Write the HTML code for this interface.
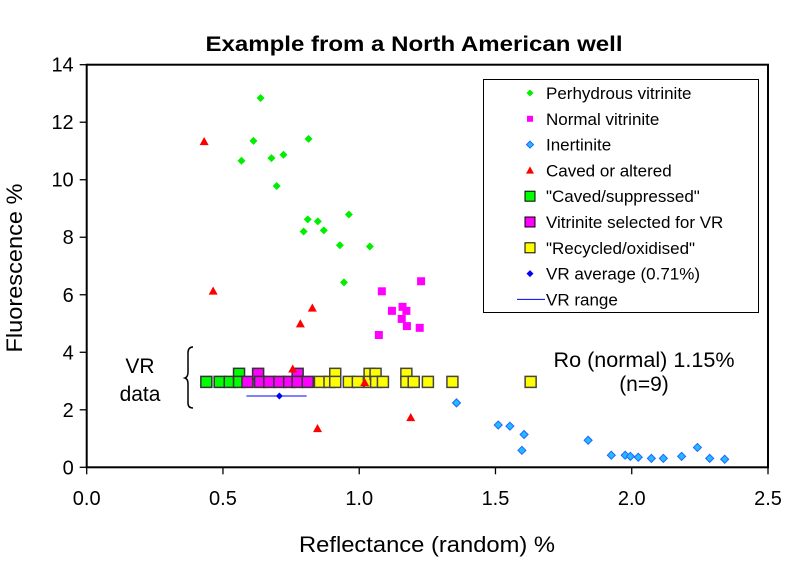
<!DOCTYPE html>
<html><head><meta charset="utf-8"><style>
html,body{margin:0;padding:0;background:#fff;}
svg{display:block;font-family:"Liberation Sans",Arial,sans-serif;}
</style></head><body>
<svg id="chart" width="789" height="565" viewBox="0 0 789 565"></svg>
<script>
const xTicks=[0.0,0.5,1.0,1.5,2.0,2.5];
const xTickLabels=["0.0","0.5","1.0","1.5","2.0","2.5"];
const yTicks=[0,2,4,6,8,10,12,14];
const yTickLabels=["0","2","4","6","8","10","12","14"];
const perhydX=[0.638,0.612,0.568,0.678,0.722,0.814,0.697,0.811,0.848,0.962,0.796,0.870,0.929,1.039,0.944];
const perhydY=[12.84,11.35,10.66,10.75,10.87,11.42,9.78,8.62,8.55,8.79,8.20,8.24,7.72,7.68,6.43];
const normalX=[1.083,1.227,1.120,1.159,1.173,1.156,1.175,1.222,1.072];
const normalY=[6.12,6.47,5.44,5.58,5.44,5.16,4.91,4.85,4.60];
const inertX=[1.357,1.510,1.553,1.605,1.597,1.840,1.925,1.976,1.995,2.024,2.072,2.116,2.183,2.241,2.286,2.341];
const inertY=[2.24,1.47,1.43,1.14,0.59,0.94,0.42,0.42,0.38,0.35,0.31,0.31,0.38,0.69,0.31,0.28];
const cavedX=[0.431,0.464,0.784,0.828,0.847,1.189,0.756,1.020];
const cavedY=[11.33,6.13,4.99,5.54,1.35,1.73,3.42,2.95];
const suppX=[0.439,0.488,0.525,0.559,0.559];
const suppY=[2.97,2.97,2.97,3.25,2.97];
const selX=[0.590,0.629,0.636,0.670,0.707,0.743,0.774,0.774,0.811];
const selY=[2.97,3.25,2.97,2.97,2.97,2.97,3.25,2.97,2.97];
const recX=[0.856,0.891,0.912,0.912,0.962,0.995,1.038,1.038,1.060,1.062,1.087,1.173,1.173,1.200,1.252,1.342,1.629];
const recY=[2.97,2.97,3.25,2.97,2.97,2.97,3.25,2.97,3.25,2.97,2.97,3.25,2.97,2.97,2.97,2.97,2.97];
const vrAvgX=[0.707];
const vrAvgY=[2.48];
const vrRange=[0.586,0.807];

const L=86.7,R=768,T=64.7,B=467.3;
const xS=v=>L+(v-0)/2.5*(R-L);
const yS=v=>B-(v-0)/14*(B-T);
const NS="http://www.w3.org/2000/svg";
const svg=document.getElementById('chart');
function mk(tag,attrs,parent){const e=document.createElementNS(NS,tag);for(const k in attrs)e.setAttribute(k,attrs[k]);(parent||svg).appendChild(e);return e;}
function txt(s,attrs,parent){const e=mk('text',attrs,parent);e.textContent=s;return e;}

let t=txt('Example from a North American well',{x:414,y:51,'text-anchor':'middle','font-size':21,'font-weight':'bold',textLength:417,lengthAdjust:'spacingAndGlyphs'});



const frame=mk('rect',{x:L,y:T,width:R-L,height:B-T,fill:'none',stroke:'#000','stroke-width':2});



const xg=mk('g',{});


xTicks.forEach((v,i)=>{
  mk('line',{x1:xS(v),x2:xS(v),y1:B,y2:B+7,stroke:'#000','stroke-width':1.3},xg);
  const l=txt(xTickLabels[i],{x:xS(v),y:505,'text-anchor':'middle','font-size':20},xg);
  
  
});
const yg=mk('g',{});


yTicks.forEach((v,i)=>{
  mk('line',{x1:L-7,x2:L,y1:yS(v),y2:yS(v),stroke:'#000','stroke-width':1.3},yg);
  const l=txt(yTickLabels[i],{x:L-13,y:yS(v)+7,'text-anchor':'end','font-size':20},yg);
  
  
});
t=txt('Reflectance (random) %',{x:427,y:552,'text-anchor':'middle','font-size':22,textLength:256,lengthAdjust:'spacingAndGlyphs'});


t=txt('Fluorescence %',{x:0,y:0,'text-anchor':'middle','font-size':22,textLength:169,lengthAdjust:'spacingAndGlyphs',transform:'translate(22,268) rotate(-90)'});



function diamond(cx,cy,r,fill,stroke,p){return mk('path',{d:`M${cx} ${cy-r}L${cx+r} ${cy}L${cx} ${cy+r}L${cx-r} ${cy}Z`,fill:fill,stroke:stroke||'none','stroke-width':1},p);}
function square(cx,cy,s,fill,stroke,p){return mk('rect',{x:cx-s/2,y:cy-s/2,width:s,height:s,fill:fill,stroke:stroke||'none','stroke-width':1.5},p);}
function tri(cx,cy,r,fill,p){return mk('path',{d:`M${cx} ${cy-r}L${cx+r} ${cy+r*0.8}L${cx-r} ${cy+r*0.8}Z`,fill:fill},p);}

let g=mk('g',{});
recX.forEach((x,i)=>{const m=square(xS(x),yS(recY[i]),11,'#ffff00','#444',g);});
g=mk('g',{});
suppX.forEach((x,i)=>{const m=square(xS(x),yS(suppY[i]),11,'#00ff00','#333',g);});
g=mk('g',{});
selX.forEach((x,i)=>{const m=square(xS(x),yS(selY[i]),11,'#ff00ff','#333',g);});
g=mk('g',{});
perhydX.forEach((x,i)=>{const m=diamond(xS(x),yS(perhydY[i]),4,'#00ee00',null,g);});
g=mk('g',{});
normalX.forEach((x,i)=>{const m=square(xS(x),yS(normalY[i]),8,'#ff00ff',null,g);});
g=mk('g',{});
inertX.forEach((x,i)=>{const m=diamond(xS(x),yS(inertY[i]),4,'#22bbff','#2266ff',g);});
g=mk('g',{});
cavedX.forEach((x,i)=>{const m=tri(xS(x),yS(cavedY[i]),4.5,'#ff0000',g);});
g=mk('g',{});
let ln=mk('line',{x1:xS(vrRange[0]),x2:xS(vrRange[1]),y1:yS(vrAvgY[0]),y2:yS(vrAvgY[0]),stroke:'#0000ff','stroke-width':1},g);

vrAvgX.forEach((x,i)=>{const m=diamond(xS(x),yS(vrAvgY[i]),3.5,'#0000ff',null,g);});

g=mk('g',{});
txt('VR',{x:140,y:373,'text-anchor':'middle','font-size':21},g);
txt('data',{x:140,y:401,'text-anchor':'middle','font-size':21},g);
mk('path',{d:'M193 347 Q188 347 188 353 L188 372 Q188 377 185 378 Q188 379 188 384 L188 403 Q188 408 193 408',fill:'none',stroke:'#000','stroke-width':1.5},g);
g=mk('g',{});
txt('Ro (normal) 1.15%',{x:644,y:367,'text-anchor':'middle','font-size':21,textLength:181,lengthAdjust:'spacingAndGlyphs'},g);
txt('(n=9)',{x:644,y:391,'text-anchor':'middle','font-size':21},g);

const lg=mk('g',{});
mk('rect',{x:483.5,y:79.5,width:275,height:233,fill:'#fff',stroke:'#000','stroke-width':1},lg);
const entries=[
 ['Perhydrous vitrinite','d','#00ee00',null],
 ['Normal vitrinite','s','#ff00ff',null],
 ['Inertinite','d','#22bbff','#2266ff'],
 ['Caved or altered','t','#ff0000',null],
 ['"Caved/suppressed"','S','#00ff00','#000'],
 ['Vitrinite selected for VR','S','#ff00ff','#000'],
 ['"Recycled/oxidised"','S','#ffff00','#000'],
 ['VR average (0.71%)','d','#0000ff',null],
 ['VR range','l','#0000ff',null]];
entries.forEach((e,i)=>{
  const y=93+i*25.8;const cx=530;
  const eg=mk('g',{},lg);
  
  
  if(e[1]==='d')diamond(cx,y,3.5,e[2],e[3],eg);
  else if(e[1]==='s')square(cx,y,6,e[2],null,eg);
  else if(e[1]==='t')tri(cx,y,4,e[2],eg);
  else if(e[1]==='S')mk('rect',{x:cx-5,y:y-5,width:10,height:10,fill:e[2],stroke:'#000','stroke-width':1},eg);
  else mk('line',{x1:517,x2:545,y1:y,y2:y,stroke:e[2],'stroke-width':1},eg);
  txt(e[0],{x:546,y:y+6,'font-size':17},eg);
});
</script>
</body></html>
